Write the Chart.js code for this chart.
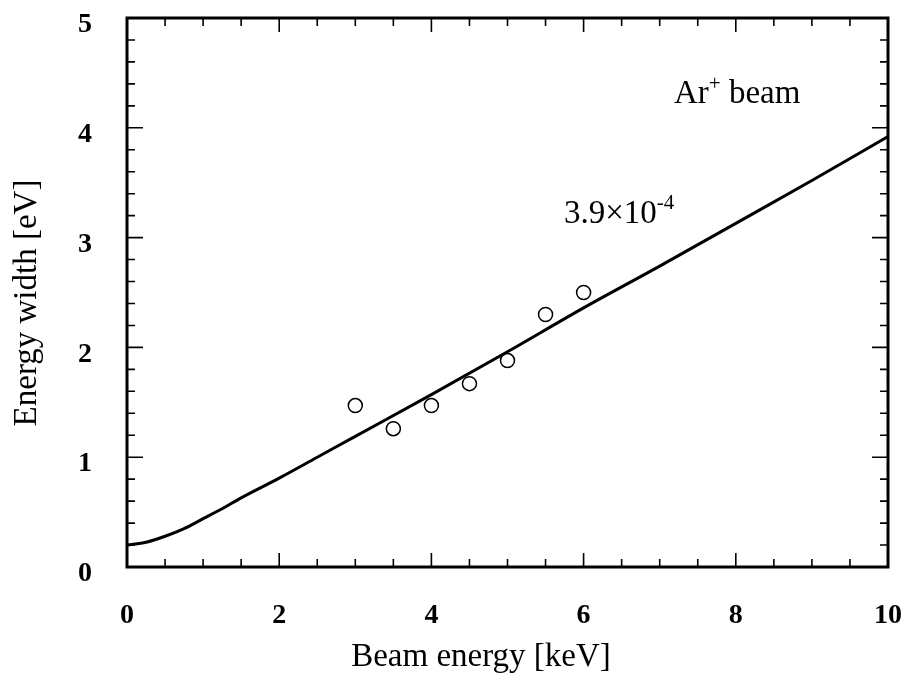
<!DOCTYPE html>
<html>
<head>
<meta charset="utf-8">
<script src="https://cdn.jsdelivr.net/npm/chart.js@4/dist/chart.umd.min.js"></script>
<style>
  html, body { margin: 0; padding: 0; background: #fff; }
  #wrap { width: 911px; height: 700px; }
</style>
</head>
<body>
<div id="wrap"><canvas id="c" width="911" height="700"></canvas></div>
<script>
// Beam energy (keV) and measured energy width (eV) for the Ar+ beam
const measuredEnergy = [3.0, 3.5, 4.0, 4.5, 5.0, 5.5, 6.0];
const measuredWidth  = [1.47, 1.26, 1.47, 1.67, 1.88, 2.30, 2.50];

// Calculated energy-width curve (slope 3.9e-4)
const curveEnergy = [0, 0.25, 0.5, 0.75, 1.0, 1.25, 1.5, 2.0, 2.5, 3.0, 4.0, 5.0, 6.0, 7.0, 8.0, 9.0, 10.0];
const curveWidth  = [0.20, 0.225, 0.28, 0.35, 0.44, 0.53, 0.63, 0.81, 1.00, 1.19, 1.57, 1.96, 2.36, 2.74, 3.13, 3.52, 3.92];

const xTickValues = [0, 2, 4, 6, 8, 10];
const yTickValues = [0, 1, 2, 3, 4, 5];

const SERIF = '"Liberation Serif", "Times New Roman", serif';

// Frame, inward major/minor ticks on all four sides, axis titles and annotations
const framePlugin = {
  id: 'frame',
  afterDatasetsDraw(chart) {
    const { ctx, chartArea: a, scales: { x, y } } = chart;
    ctx.save();
    ctx.strokeStyle = '#000';
    ctx.lineCap = 'butt';

    // x ticks: major every 2, minor every 0.5
    ctx.lineWidth = 1.6;
    for (let i = 1; i < 20; i++) {
      const v = i * 0.5;
      const px = x.getPixelForValue(v);
      const len = (i % 4 === 0) ? 14 : 8;
      ctx.beginPath();
      ctx.moveTo(px, a.bottom); ctx.lineTo(px, a.bottom - len);
      ctx.moveTo(px, a.top); ctx.lineTo(px, a.top + len);
      ctx.stroke();
    }
    // y ticks: major every 1, minor every 0.2
    for (let i = 1; i < 25; i++) {
      const v = i * 0.2;
      const py = y.getPixelForValue(v);
      const len = (i % 5 === 0) ? 16 : 8;
      ctx.beginPath();
      ctx.moveTo(a.left, py); ctx.lineTo(a.left + len, py);
      ctx.moveTo(a.right, py); ctx.lineTo(a.right - len, py);
      ctx.stroke();
    }

    // frame
    ctx.lineWidth = 3;
    ctx.strokeRect(a.left, a.top, a.right - a.left, a.bottom - a.top);

    ctx.fillStyle = '#000';
    ctx.textBaseline = 'alphabetic';

    // axis titles
    ctx.font = '33px ' + SERIF;
    ctx.textAlign = 'center';
    ctx.fillText('Beam energy [keV]', 481, 666);
    ctx.save();
    ctx.translate(36, 303);
    ctx.rotate(-Math.PI / 2);
    ctx.fillText('Energy width [eV]', 0, 0);
    ctx.restore();

    // annotations
    ctx.textAlign = 'left';
    ctx.font = '33px ' + SERIF;
    ctx.fillText('Ar', 674, 103);
    let w = ctx.measureText('Ar').width;
    ctx.font = '21px ' + SERIF;
    ctx.fillText('+', 674 + w, 90);
    const wp = ctx.measureText('+').width;
    ctx.font = '33px ' + SERIF;
    ctx.fillText(' beam', 674 + w + wp, 103);

    ctx.fillText('3.9\u00d710', 564, 223);
    w = ctx.measureText('3.9\u00d710').width;
    ctx.font = '21px ' + SERIF;
    ctx.fillText('-4', 564 + w, 209);

    ctx.restore();
  }
};

// Fix the plot box: fixed axis sizes and no extra label padding
function fitX(s) {
  s.height = 133;
  s.paddingLeft = 0; s.paddingRight = 0; s.paddingTop = 0; s.paddingBottom = 0;
}
function fitY(s) {
  s.width = 127;
  s.paddingLeft = 0; s.paddingRight = 0; s.paddingTop = 0; s.paddingBottom = 0;
}

new Chart(document.getElementById('c'), {
  type: 'scatter',
  data: {
    datasets: [
      {
        label: 'calculated',
        data: curveEnergy.map((e, i) => ({ x: e, y: curveWidth[i] })),
        showLine: true,
        borderColor: '#000',
        borderWidth: 3,
        pointRadius: 0,
        cubicInterpolationMode: 'monotone',
        fill: false
      },
      {
        label: 'measured',
        data: measuredEnergy.map((e, i) => ({ x: e, y: measuredWidth[i] })),
        showLine: false,
        pointStyle: 'circle',
        pointRadius: 7,
        pointBorderWidth: 1.5,
        pointBorderColor: '#000',
        pointBackgroundColor: '#fff'
      }
    ]
  },
  options: {
    responsive: false,
    animation: false,
    devicePixelRatio: 1,
    layout: { padding: { top: 18, right: 23, left: 0, bottom: 0 } },
    plugins: { legend: { display: false }, tooltip: { enabled: false } },
    scales: {
      x: {
        type: 'linear',
        min: 0, max: 10,
        afterFit: fitX,
        afterBuildTicks: s => { s.ticks = xTickValues.map(v => ({ value: v })); },
        grid: { display: false, drawTicks: false },
        border: { display: false },
        ticks: {
          color: '#000',
          padding: 32,
          maxRotation: 0,
          font: { family: SERIF, size: 28, weight: 'bold' }
        }
      },
      y: {
        type: 'linear',
        min: 0, max: 5,
        afterFit: fitY,
        afterBuildTicks: s => { s.ticks = yTickValues.map(v => ({ value: v })); },
        grid: { display: false, drawTicks: false },
        border: { display: false },
        ticks: {
          color: '#000',
          padding: 35,
          labelOffset: 7,
          font: { family: SERIF, size: 28, weight: 'bold' }
        }
      }
    }
  },
  plugins: [framePlugin]
});
</script>
</body>
</html>
